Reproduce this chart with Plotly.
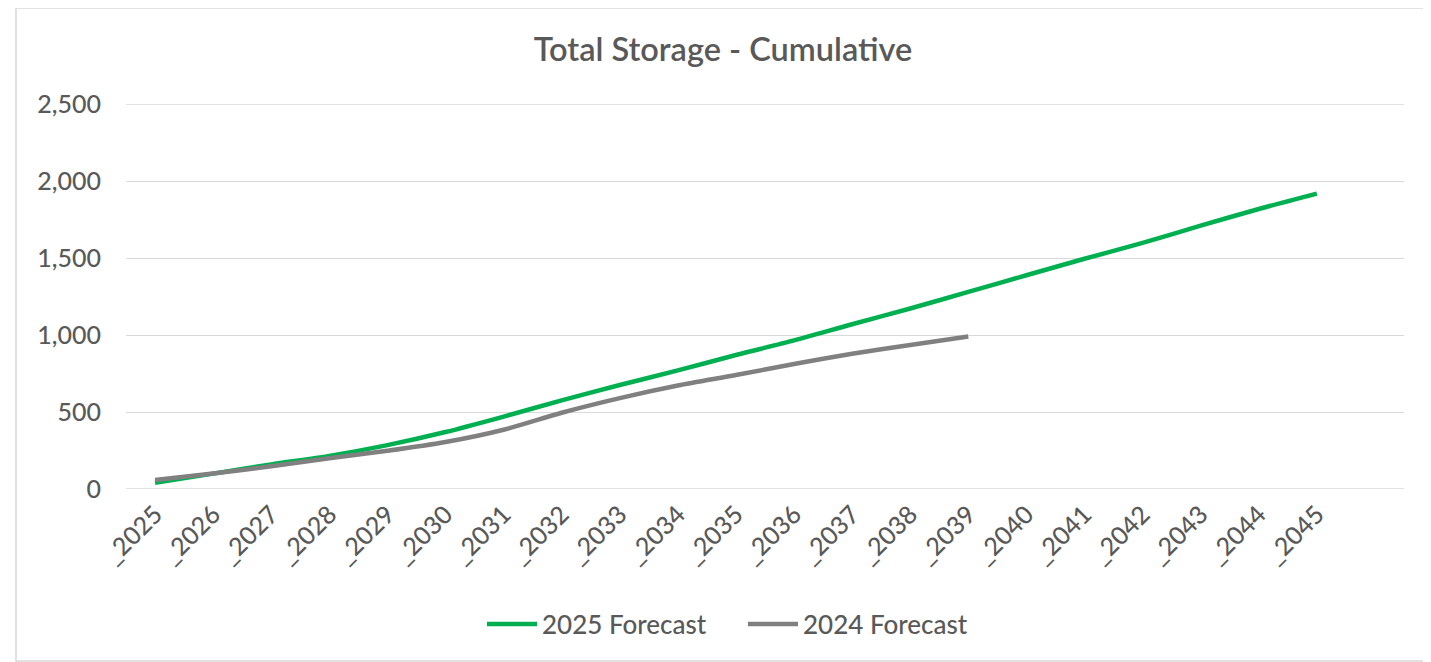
import plotly.graph_objects as go

years = [f"_{y}" for y in range(2025, 2046)]
categories = years + [" "]  # trailing empty slot on the category axis

forecast_2025 = [40, 100, 160, 215, 285, 370, 470, 575, 675, 770, 870, 965,
                 1070, 1172, 1280, 1388, 1495, 1598, 1710, 1818, 1918]
forecast_2024 = [58, 100, 148, 200, 248, 305, 385, 495, 590, 672, 740, 812,
                 878, 935, 990]

FONT = "Lato"
TXT = "#595959"

# page body adds an 8px offset; plot area target in page px: x 126-1404, y 104-489
L, T, PW, PH = 118, 96, 1278, 385

def px(x):
    return (x - 8 - L) / PW

def py(y):
    return (T + PH - (y - 8)) / PH

fig = go.Figure()
fig.add_trace(go.Scatter(
    x=years, y=forecast_2025, name="2025 Forecast", mode="lines",
    line=dict(color="#00B050", width=4.5, shape="spline", smoothing=0.8),
    cliponaxis=False))
fig.add_trace(go.Scatter(
    x=years[:len(forecast_2024)], y=forecast_2024, name="2024 Forecast", mode="lines",
    line=dict(color="#808080", width=4.5, shape="spline", smoothing=0.8),
    cliponaxis=False))

shapes = [dict(type="rect", xref="paper", yref="paper",
               x0=px(16), x1=px(1429), y0=py(661), y1=py(8),
               line=dict(color="#D9D9D9", width=1.5), fillcolor="rgba(0,0,0,0)",
               layer="below")]
for v in (0, 2500):
    shapes.append(dict(type="line", xref="paper", yref="y", x0=0, x1=1, y0=v, y1=v,
                       line=dict(color="#D9D9D9", width=1.3), layer="below"))

fig.update_layout(
    width=1431, height=662,
    margin=dict(l=L, r=1431 - L - PW, t=T, b=662 - T - PH),
    paper_bgcolor="white", plot_bgcolor="white",
    font=dict(family=FONT, color=TXT, size=25),
    title=dict(text="Total Storage - Cumulative", x=px(723), xref="paper",
               xanchor="center", y=(662 - 42) / 662, yanchor="middle", yref="container",
               font=dict(family=FONT, size=32.5, color=TXT, weight=600)),
    showlegend=True,
    legend=dict(orientation="h", x=px(482), xanchor="left",
                y=py(624), yanchor="middle",
                font=dict(family=FONT, size=26, color=TXT, weight=500),
                itemwidth=50, entrywidth=196, entrywidthmode="pixels"),
    xaxis=dict(type="category", categoryorder="array", categoryarray=categories,
               range=[-0.5, 21.5], showgrid=False, showline=False, zeroline=False,
               tickangle=-45, ticklabelstandoff=5,
               tickfont=dict(family=FONT, size=25, color=TXT, weight=500)),
    yaxis=dict(range=[0, 2500], tickvals=[0, 500, 1000, 1500, 2000, 2500],
               tickformat=",d", showgrid=True, gridcolor="#D9D9D9", gridwidth=1.3,
               zeroline=False, showline=False, ticklabelstandoff=24,
               tickfont=dict(family=FONT, size=25, color=TXT, weight=500)),
    shapes=shapes,
)

fig.write_html("out.html")
